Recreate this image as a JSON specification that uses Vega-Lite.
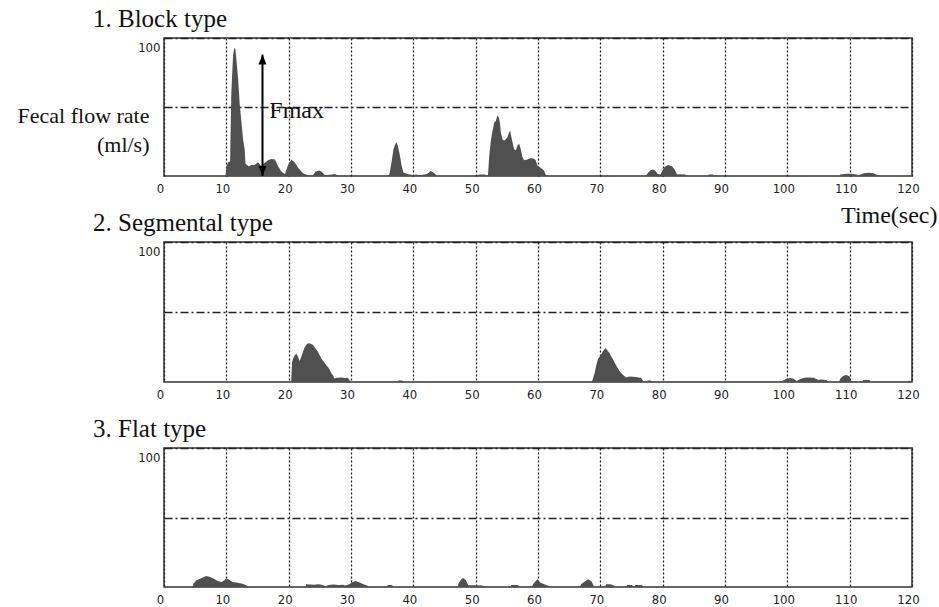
{
  "$schema": "https://vega.github.io/schema/vega-lite/v6.json",
  "background": "white",
  "padding": {"left": 16, "top": 6, "right": 0, "bottom": 0},
  "bounds": "flush",
  "spacing": 66,
  "config": {
    "view": {"stroke": "#333333", "strokeWidth": 1.5},
    "axis": {
      "domain": false, "ticks": false,
      "labelFont": "Liberation Sans Narrow, DejaVu Sans Condensed, Liberation Sans, sans-serif", "labelFontSize": 13, "labelColor": "#222222",
      "gridColor": "#222222", "gridOpacity": 1,
      "titleFont": "Liberation Serif", "titleFontWeight": "normal", "titleColor": "#111111"
    },
    "axisX": {"gridDash": [2, 2], "gridWidth": 1.3, "labelPadding": 6, "labelFlush": false, "labelOverlap": false, "labelOffset": -4},
    "axisY": {"gridDash": [8, 3, 2, 3], "gridWidth": 1.4, "labelPadding": 4},
    "title": {"font": "Liberation Serif", "fontSize": 25, "fontWeight": "normal", "color": "#111111", "anchor": "start", "frame": "group", "dx": -71, "offset": 6, "baseline": "alphabetic"}
  },
  "datasets": {
    "block": [
      {"t": 0, "v": 0}, {"t": 9.9, "v": 0}, {"t": 10.0, "v": 7}, {"t": 10.3, "v": 10}, {"t": 10.6, "v": 10.5},
      {"t": 10.8, "v": 60}, {"t": 11.0, "v": 80}, {"t": 11.1, "v": 88}, {"t": 11.3, "v": 93}, {"t": 11.45, "v": 92},
      {"t": 11.6, "v": 85}, {"t": 11.9, "v": 70}, {"t": 12.15, "v": 52}, {"t": 12.4, "v": 40}, {"t": 12.7, "v": 26},
      {"t": 12.95, "v": 19}, {"t": 13.07, "v": 9}, {"t": 13.3, "v": 8}, {"t": 13.6, "v": 7}, {"t": 14.0, "v": 8},
      {"t": 14.5, "v": 8}, {"t": 15.1, "v": 10}, {"t": 15.6, "v": 7}, {"t": 16.0, "v": 9}, {"t": 16.7, "v": 11.5},
      {"t": 17.2, "v": 12.3}, {"t": 17.8, "v": 12}, {"t": 18.3, "v": 7}, {"t": 18.85, "v": 3}, {"t": 19.4, "v": 1.5},
      {"t": 19.9, "v": 8}, {"t": 20.45, "v": 12}, {"t": 21.0, "v": 9.6}, {"t": 21.5, "v": 6}, {"t": 22.3, "v": 2},
      {"t": 23.1, "v": 0.5}, {"t": 23.8, "v": 0}, {"t": 24.3, "v": 3}, {"t": 24.9, "v": 4}, {"t": 25.3, "v": 3},
      {"t": 25.8, "v": 0.5}, {"t": 27.0, "v": 1}, {"t": 27.4, "v": 1.5}, {"t": 27.8, "v": 0.5}, {"t": 28.5, "v": 0},
      {"t": 36.0, "v": 0}, {"t": 36.2, "v": 2}, {"t": 36.5, "v": 10}, {"t": 36.8, "v": 19}, {"t": 37.1, "v": 23},
      {"t": 37.3, "v": 24.5}, {"t": 37.5, "v": 22}, {"t": 37.8, "v": 16}, {"t": 38.1, "v": 8}, {"t": 38.4, "v": 2.5},
      {"t": 39.0, "v": 1.5}, {"t": 39.5, "v": 1}, {"t": 40.0, "v": 0.5}, {"t": 40.5, "v": 1}, {"t": 41.0, "v": 0.5},
      {"t": 42.2, "v": 1.5}, {"t": 42.8, "v": 3.6}, {"t": 43.4, "v": 2}, {"t": 43.8, "v": 0},
      {"t": 50.2, "v": 0}, {"t": 50.5, "v": 1}, {"t": 51.5, "v": 1}, {"t": 51.9, "v": 0}, {"t": 52.0, "v": 2},
      {"t": 52.16, "v": 13.8}, {"t": 52.43, "v": 25.5}, {"t": 52.7, "v": 32.6}, {"t": 52.96, "v": 38.6}, {"t": 53.23, "v": 39.8},
      {"t": 53.5, "v": 44}, {"t": 53.76, "v": 42}, {"t": 53.92, "v": 37.5}, {"t": 54.03, "v": 31.5}, {"t": 54.3, "v": 26.7},
      {"t": 54.56, "v": 25.5}, {"t": 54.83, "v": 26.7}, {"t": 55.1, "v": 28}, {"t": 55.36, "v": 31.5}, {"t": 55.52, "v": 32.7},
      {"t": 55.8, "v": 26.7}, {"t": 56.16, "v": 19.5}, {"t": 56.43, "v": 18.5}, {"t": 56.7, "v": 21.9}, {"t": 56.96, "v": 23.6},
      {"t": 57.23, "v": 19.5}, {"t": 57.5, "v": 13.8}, {"t": 57.76, "v": 11.4}, {"t": 58.3, "v": 12}, {"t": 58.83, "v": 13.1},
      {"t": 59.36, "v": 12.5}, {"t": 59.63, "v": 11.4}, {"t": 59.9, "v": 7.6}, {"t": 60.43, "v": 6}, {"t": 60.96, "v": 4},
      {"t": 61.23, "v": 1}, {"t": 61.5, "v": 0},
      {"t": 77.3, "v": 0}, {"t": 77.6, "v": 2}, {"t": 78.0, "v": 4}, {"t": 78.4, "v": 4.8}, {"t": 78.8, "v": 4},
      {"t": 79.2, "v": 1.5}, {"t": 79.6, "v": 1}, {"t": 79.9, "v": 3}, {"t": 80.3, "v": 6.5}, {"t": 80.9, "v": 8},
      {"t": 81.5, "v": 7}, {"t": 82.0, "v": 4}, {"t": 82.3, "v": 1}, {"t": 82.8, "v": 1.2}, {"t": 83.6, "v": 1},
      {"t": 83.9, "v": 0}, {"t": 87.2, "v": 0}, {"t": 87.4, "v": 1}, {"t": 88.1, "v": 1}, {"t": 88.3, "v": 0},
      {"t": 108.3, "v": 0}, {"t": 108.5, "v": 1}, {"t": 109.5, "v": 1.6}, {"t": 110.3, "v": 1.7}, {"t": 111.0, "v": 1},
      {"t": 111.5, "v": 0.8}, {"t": 112.3, "v": 2}, {"t": 113.0, "v": 2.4}, {"t": 113.8, "v": 2}, {"t": 114.6, "v": 0.5},
      {"t": 114.8, "v": 0}, {"t": 120, "v": 0}
    ],
    "seg": [
      {"t": 0, "v": 0}, {"t": 20.4, "v": 0}, {"t": 20.54, "v": 14}, {"t": 20.7, "v": 16.6}, {"t": 20.96, "v": 19},
      {"t": 21.23, "v": 20.4}, {"t": 21.5, "v": 18}, {"t": 21.76, "v": 15}, {"t": 22.03, "v": 18}, {"t": 22.3, "v": 21.6},
      {"t": 22.56, "v": 24.8}, {"t": 22.83, "v": 26.4}, {"t": 23.1, "v": 27.7}, {"t": 23.4, "v": 27.5}, {"t": 23.63, "v": 27.2},
      {"t": 23.9, "v": 26.4}, {"t": 24.16, "v": 24.8}, {"t": 24.43, "v": 23.3}, {"t": 24.7, "v": 21.6}, {"t": 24.96, "v": 19.2},
      {"t": 25.23, "v": 16.8}, {"t": 25.5, "v": 15.2}, {"t": 25.76, "v": 13.7}, {"t": 26.03, "v": 12}, {"t": 26.3, "v": 10.8},
      {"t": 26.56, "v": 8.9}, {"t": 26.83, "v": 6.5}, {"t": 27.1, "v": 4.8}, {"t": 27.36, "v": 2.4}, {"t": 27.63, "v": 3.1},
      {"t": 27.9, "v": 3}, {"t": 28.5, "v": 3.2}, {"t": 29.0, "v": 2.8}, {"t": 29.5, "v": 3}, {"t": 29.76, "v": 1.2},
      {"t": 30.0, "v": 0}, {"t": 37.4, "v": 0}, {"t": 37.6, "v": 1}, {"t": 38.2, "v": 1}, {"t": 38.4, "v": 0},
      {"t": 68.6, "v": 0}, {"t": 68.72, "v": 1}, {"t": 69.09, "v": 6.4}, {"t": 69.36, "v": 12.4}, {"t": 69.62, "v": 16.4},
      {"t": 70.0, "v": 18.8}, {"t": 70.42, "v": 21.9}, {"t": 70.85, "v": 24.3}, {"t": 71.22, "v": 21.9}, {"t": 71.48, "v": 20.7},
      {"t": 71.75, "v": 18.3}, {"t": 72.01, "v": 16.4}, {"t": 72.28, "v": 14}, {"t": 72.55, "v": 11.7}, {"t": 72.81, "v": 9.8},
      {"t": 73.08, "v": 7.6}, {"t": 73.61, "v": 5.2}, {"t": 74.14, "v": 3.3}, {"t": 74.67, "v": 4}, {"t": 75.2, "v": 3.8},
      {"t": 75.74, "v": 3.6}, {"t": 76.54, "v": 2.9}, {"t": 76.79, "v": 1.2}, {"t": 77.06, "v": 0}, {"t": 77.5, "v": 0},
      {"t": 77.6, "v": 1}, {"t": 78.1, "v": 1}, {"t": 78.2, "v": 0},
      {"t": 99.1, "v": 0}, {"t": 99.3, "v": 1}, {"t": 100.0, "v": 2.5}, {"t": 100.5, "v": 2.9}, {"t": 101.0, "v": 2.3},
      {"t": 101.5, "v": 0.8}, {"t": 102.0, "v": 2}, {"t": 102.7, "v": 3}, {"t": 103.4, "v": 3.3}, {"t": 104.2, "v": 3},
      {"t": 105.0, "v": 1.5}, {"t": 105.3, "v": 1.7}, {"t": 106.3, "v": 1.5}, {"t": 106.5, "v": 0},
      {"t": 108.3, "v": 0}, {"t": 108.5, "v": 2.5}, {"t": 109.0, "v": 4.5}, {"t": 109.5, "v": 5}, {"t": 110.0, "v": 4},
      {"t": 110.2, "v": 1}, {"t": 110.4, "v": 0}, {"t": 112.1, "v": 0}, {"t": 112.2, "v": 1.5}, {"t": 113.2, "v": 1.5},
      {"t": 113.3, "v": 0}, {"t": 119.3, "v": 0}, {"t": 119.5, "v": 1}, {"t": 120, "v": 0}
    ],
    "flat": [
      {"t": 0, "v": 0}, {"t": 4.6, "v": 0}, {"t": 4.7, "v": 2.4}, {"t": 5.2, "v": 4.8}, {"t": 5.8, "v": 6},
      {"t": 6.4, "v": 7.2}, {"t": 6.8, "v": 8}, {"t": 7.4, "v": 7.2}, {"t": 8.0, "v": 6}, {"t": 8.6, "v": 4.3},
      {"t": 9.2, "v": 3.6}, {"t": 9.6, "v": 4.5}, {"t": 10.0, "v": 6.3}, {"t": 10.5, "v": 5}, {"t": 11.0, "v": 3.6},
      {"t": 11.8, "v": 3}, {"t": 12.6, "v": 2.4}, {"t": 13.2, "v": 1.2}, {"t": 13.7, "v": 0},
      {"t": 22.7, "v": 0}, {"t": 22.8, "v": 1.9}, {"t": 24.0, "v": 1.7}, {"t": 24.8, "v": 1.9}, {"t": 25.5, "v": 1.5},
      {"t": 25.9, "v": 0.5}, {"t": 26.4, "v": 1.5}, {"t": 27.2, "v": 1.8}, {"t": 28.0, "v": 1.5}, {"t": 28.7, "v": 1.6},
      {"t": 29.1, "v": 1}, {"t": 29.7, "v": 2}, {"t": 30.2, "v": 3.5}, {"t": 30.7, "v": 4.3}, {"t": 31.3, "v": 3.5},
      {"t": 32.0, "v": 2}, {"t": 32.6, "v": 1}, {"t": 32.9, "v": 0},
      {"t": 35.8, "v": 0}, {"t": 35.9, "v": 1.5}, {"t": 36.6, "v": 1.5}, {"t": 36.7, "v": 0},
      {"t": 47.1, "v": 0}, {"t": 47.3, "v": 3}, {"t": 47.7, "v": 5.5}, {"t": 48.0, "v": 6.5}, {"t": 48.4, "v": 5},
      {"t": 48.8, "v": 1.5}, {"t": 49.0, "v": 1.2}, {"t": 50.0, "v": 1.3}, {"t": 51.0, "v": 1}, {"t": 51.9, "v": 0},
      {"t": 55.6, "v": 0}, {"t": 55.7, "v": 1.4}, {"t": 56.8, "v": 1.4}, {"t": 56.9, "v": 0},
      {"t": 59.0, "v": 0}, {"t": 59.2, "v": 2}, {"t": 59.9, "v": 5.6}, {"t": 60.4, "v": 3}, {"t": 61.0, "v": 2},
      {"t": 61.8, "v": 0.5}, {"t": 62.0, "v": 0},
      {"t": 66.7, "v": 0}, {"t": 66.9, "v": 2}, {"t": 67.5, "v": 4}, {"t": 68.1, "v": 5.6}, {"t": 68.6, "v": 4},
      {"t": 68.9, "v": 1}, {"t": 69.1, "v": 0}, {"t": 70.8, "v": 0}, {"t": 70.9, "v": 2}, {"t": 71.6, "v": 2},
      {"t": 72.2, "v": 1}, {"t": 72.3, "v": 0}, {"t": 74.2, "v": 0}, {"t": 74.3, "v": 1.5}, {"t": 75.1, "v": 1.5},
      {"t": 75.2, "v": 0}, {"t": 75.5, "v": 0}, {"t": 75.6, "v": 1.5}, {"t": 76.7, "v": 1.5}, {"t": 76.8, "v": 0},
      {"t": 120, "v": 0}
    ],
    "arrow": [{"t": 15.8, "v0": 0, "v1": 88}],
    "heads": [{"t": 15.8, "v": 88, "end": "top"}, {"t": 15.8, "v": 0, "end": "bottom"}],
    "label": [{"t": 16.9, "v": 41.8, "text": "Fmax"}]
  },
  "vconcat": [
    {
      "width": 748, "height": 138,
      "title": {"text": "1. Block type"},
      "layer": [
        {
          "data": {"name": "block"},
          "mark": {"type": "area", "color": "#505050", "interpolate": "linear"},
          "encoding": {
            "x": {"field": "t", "type": "quantitative", "scale": {"domain": [0, 120], "nice": false},
                  "axis": {"values": [0, 10, 20, 30, 40, 50, 60, 70, 80, 90, 100, 110, 120], "grid": true,
                           "title": "Time(sec)", "titleFontSize": 24, "titleAlign": "right", "titleAnchor": "end",
                           "titleBaseline": "alphabetic", "titleX": 773, "titleY": 46}},
            "y": {"field": "v", "type": "quantitative", "scale": {"domain": [0, 100], "nice": false},
                  "axis": {"values": [50, 100], "grid": true, "labelExpr": "datum.value == 100 ? '100' : ''",
                           "labelBaseline": "top", "labelOffset": 3,
                           "title": ["Fecal flow rate", "(ml/s)"], "titleAngle": 0, "titleFontSize": 22,
                           "titleAlign": "right", "titleBaseline": "alphabetic", "titleX": -15, "titleY": 84,
                           "titleLineHeight": 29}}
          }
        },
        {
          "data": {"name": "arrow"},
          "mark": {"type": "rule", "color": "#000000", "strokeWidth": 2},
          "encoding": {
            "x": {"field": "t", "type": "quantitative", "scale": {"domain": [0, 120], "nice": false}},
            "y": {"field": "v0", "type": "quantitative", "scale": {"domain": [0, 100], "nice": false}},
            "y2": {"field": "v1"}
          }
        },
        {
          "data": {"name": "heads"},
          "mark": {"type": "point", "filled": true, "color": "#000000", "opacity": 1, "size": 400},
          "encoding": {
            "x": {"field": "t", "type": "quantitative", "scale": {"domain": [0, 120], "nice": false}},
            "y": {"field": "v", "type": "quantitative", "scale": {"domain": [0, 100], "nice": false}},
            "shape": {"field": "end", "type": "nominal", "legend": null,
                      "scale": {"domain": ["top", "bottom"], "range": ["M0,0L-0.4,1L0.4,1Z", "M0,0L-0.4,-1L0.4,-1Z"]}}
          }
        },
        {
          "data": {"name": "label"},
          "mark": {"type": "text", "font": "Liberation Serif", "fontSize": 24, "align": "left", "baseline": "alphabetic", "color": "#111111"},
          "encoding": {
            "x": {"field": "t", "type": "quantitative", "scale": {"domain": [0, 120], "nice": false}},
            "y": {"field": "v", "type": "quantitative", "scale": {"domain": [0, 100], "nice": false}},
            "text": {"field": "text"}
          }
        }
      ]
    },
    {
      "width": 748, "height": 140,
      "title": {"text": "2. Segmental type"},
      "data": {"name": "seg"},
      "mark": {"type": "area", "color": "#505050", "interpolate": "linear"},
      "encoding": {
        "x": {"field": "t", "type": "quantitative", "scale": {"domain": [0, 120], "nice": false},
              "axis": {"values": [0, 10, 20, 30, 40, 50, 60, 70, 80, 90, 100, 110, 120], "grid": true, "title": null}},
        "y": {"field": "v", "type": "quantitative", "scale": {"domain": [0, 100], "nice": false},
              "axis": {"values": [50, 100], "grid": true, "labelExpr": "datum.value == 100 ? '100' : ''",
                       "labelBaseline": "top", "labelOffset": 3, "title": null}}
      }
    },
    {
      "width": 748, "height": 139,
      "title": {"text": "3. Flat type"},
      "data": {"name": "flat"},
      "mark": {"type": "area", "color": "#505050", "interpolate": "linear"},
      "encoding": {
        "x": {"field": "t", "type": "quantitative", "scale": {"domain": [0, 120], "nice": false},
              "axis": {"values": [0, 10, 20, 30, 40, 50, 60, 70, 80, 90, 100, 110, 120], "grid": true, "title": null}},
        "y": {"field": "v", "type": "quantitative", "scale": {"domain": [0, 100], "nice": false},
              "axis": {"values": [50, 100], "grid": true, "labelExpr": "datum.value == 100 ? '100' : ''",
                       "labelBaseline": "top", "labelOffset": 3, "title": null}}
      }
    }
  ]
}
